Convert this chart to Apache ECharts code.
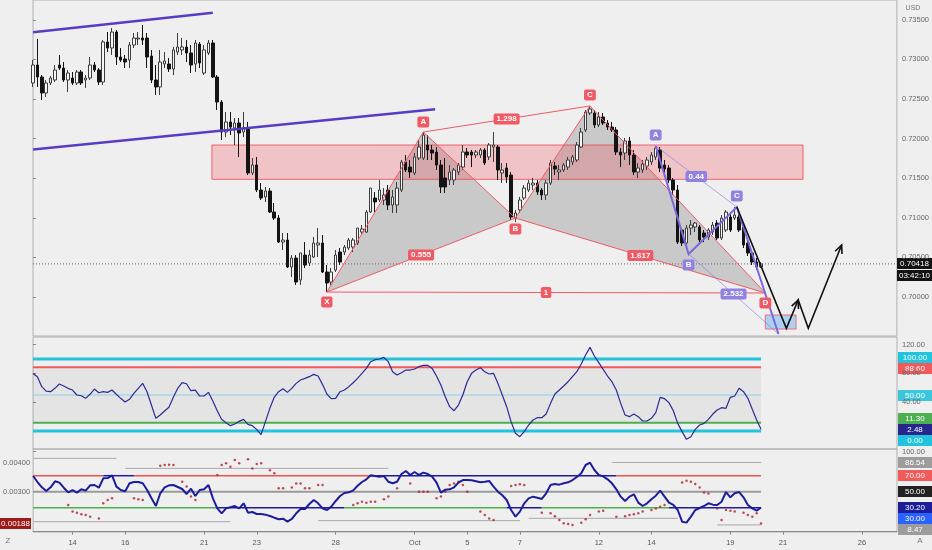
<!DOCTYPE html>
<html>
<head>
<meta charset="utf-8">
<script src="https://cdn.jsdelivr.net/npm/echarts@6.0.0/dist/echarts.min.js"></script>
<style>
html,body{margin:0;padding:0;background:#efefef;overflow:hidden}
#chart{width:932px;height:550px}
</style>
</head>
<body>
<div id="chart"></div>
<script>
// ================= DATA =================
const N_BARS = 198;
const tickBars   = [9, 21, 39, 51, 69, 87, 99, 111, 129, 141, 159, 171, 189];
const tickLabels = ['14','16','21','23','28','Oct','5','7','12','14','19','21','26'];
const priceTicks = [0.700, 0.705, 0.710, 0.715, 0.720, 0.725, 0.730, 0.735];
const oscTicks = [40, 80, 120];
const rsiTicks = [100];
const leftTicks = [0.003, 0.004];

const opens = [0.72702,0.72929,0.72778,0.72576,0.72702,0.72740,0.72929,0.72891,0.72740,0.72765,
0.72702,0.72841,0.72740,0.72765,0.72929,0.72866,0.72715,0.73220,0.73144,0.73346,
0.73030,0.73005,0.72992,0.73182,0.73258,0.73270,0.73270,0.73043,0.72740,0.72652,
0.72942,0.72942,0.72879,0.73093,0.73119,0.73157,0.73081,0.72942,0.73194,0.72828,
0.73081,0.73207,0.72778,0.72462,0.72083,0.72210,0.72134,0.72197,0.72083,0.72134,
0.71566,0.71667,0.71351,0.71263,0.71338,0.71073,0.70997,0.70694,0.70720,0.70379,
0.70492,0.70215,0.70530,0.70429,0.70505,0.70657,0.70682,0.70316,0.70189,0.70341,
0.70568,0.70568,0.70619,0.70631,0.70682,0.70821,0.70821,0.71073,0.71250,0.71225,
0.71225,0.71351,0.71162,0.71162,0.71351,0.71705,0.71641,0.71566,0.71755,0.71755,
0.71919,0.71856,0.71831,0.71667,0.71503,0.71477,0.71477,0.71578,0.71641,0.71831,
0.71831,0.71793,0.71793,0.71856,0.71768,0.71894,0.71894,0.71566,0.71629,0.71540,
0.70997,0.71099,0.71250,0.71351,0.71414,0.71439,0.71351,0.71288,0.71439,0.71654,
0.71578,0.71604,0.71641,0.71705,0.71730,0.71894,0.72109,0.72323,0.72323,0.72172,
0.72273,0.72197,0.72146,0.72109,0.71831,0.71818,0.71970,0.71793,0.71578,0.71604,
0.71654,0.71705,0.71768,0.71856,0.71667,0.71629,0.71477,0.71351,0.70846,0.70682,
0.70871,0.70884,0.70884,0.70808,0.70758,0.70821,0.70934,0.70745,0.70846,0.71010,
0.70997,0.71010,0.70884,0.70682,0.70556,0.70442,0.70379];
const closes = [0.72929,0.72778,0.72576,0.72702,0.72765,0.72866,0.72891,0.72740,0.72828,0.72702,
0.72841,0.72702,0.72765,0.72929,0.72866,0.72715,0.73220,0.73144,0.73346,0.73030,
0.72992,0.72967,0.73182,0.73270,0.73270,0.73245,0.73030,0.72740,0.72652,0.72967,
0.72980,0.72879,0.73119,0.73157,0.73157,0.73081,0.72929,0.73207,0.72955,0.73119,
0.73207,0.72778,0.72462,0.72083,0.72210,0.72146,0.72197,0.72071,0.72134,0.71566,
0.71667,0.71351,0.71250,0.71338,0.71073,0.70997,0.70694,0.70720,0.70379,0.70492,
0.70189,0.70556,0.70404,0.70530,0.70682,0.70682,0.70316,0.70177,0.70316,0.70530,
0.70442,0.70631,0.70720,0.70720,0.70871,0.70859,0.71073,0.71376,0.71200,0.71351,
0.71288,0.71162,0.71263,0.71376,0.71705,0.71604,0.71578,0.71768,0.71894,0.72045,
0.71856,0.71818,0.71667,0.71389,0.71389,0.71578,0.71604,0.71667,0.71831,0.71793,
0.71793,0.71831,0.71856,0.71692,0.71919,0.71919,0.71604,0.71604,0.71515,0.71010,
0.71061,0.71225,0.71376,0.71439,0.71439,0.71326,0.71288,0.71439,0.71692,0.71616,
0.71604,0.71667,0.71730,0.71768,0.71919,0.72083,0.72336,0.72374,0.72172,0.72273,
0.72197,0.72146,0.72109,0.71831,0.71793,0.71970,0.71793,0.71578,0.71629,0.71679,
0.71730,0.71793,0.71881,0.71629,0.71616,0.71477,0.71351,0.70694,0.70682,0.70871,
0.70909,0.70934,0.70720,0.70758,0.70846,0.70909,0.70745,0.70997,0.71073,0.70846,
0.71035,0.70846,0.70657,0.70556,0.70442,0.70379,0.70418];
const highs = [0.72992,0.73258,0.72803,0.72740,0.72790,0.72929,0.73056,0.72967,0.72866,0.72841,
0.72866,0.72866,0.72803,0.73030,0.72967,0.72891,0.73245,0.73346,0.73397,0.73371,
0.73144,0.73056,0.73220,0.73333,0.73346,0.73434,0.73333,0.73119,0.72929,0.73119,
0.73093,0.73018,0.73157,0.73333,0.73270,0.73245,0.73182,0.73245,0.73220,0.73182,
0.73245,0.73245,0.72803,0.72487,0.72336,0.72336,0.72260,0.72260,0.72336,0.72210,
0.71755,0.71768,0.71439,0.71389,0.71376,0.71187,0.71035,0.70808,0.70808,0.70530,
0.70530,0.70556,0.70694,0.70594,0.70758,0.70871,0.70783,0.70404,0.70366,0.70594,
0.70619,0.70657,0.70745,0.70745,0.70871,0.70909,0.71099,0.71376,0.71326,0.71477,
0.71376,0.71414,0.71351,0.71452,0.71730,0.71793,0.71730,0.71818,0.71982,0.72083,
0.72045,0.71919,0.71894,0.71730,0.71755,0.71667,0.71629,0.71692,0.71919,0.71881,
0.71856,0.71856,0.71881,0.71881,0.71944,0.72083,0.71919,0.71692,0.71692,0.71578,
0.71099,0.71263,0.71414,0.71477,0.71503,0.71477,0.71376,0.71477,0.71730,0.71705,
0.71667,0.71692,0.71768,0.71793,0.71957,0.72134,0.72361,0.72412,0.72361,0.72336,
0.72323,0.72235,0.72210,0.72146,0.71881,0.72008,0.72020,0.71856,0.71692,0.71730,
0.71768,0.71831,0.71907,0.71894,0.71730,0.71667,0.71503,0.71414,0.70871,0.70909,
0.70972,0.70947,0.70909,0.70846,0.70871,0.70947,0.70972,0.71035,0.71099,0.71061,
0.71136,0.71073,0.70909,0.70720,0.70594,0.70492,0.70442];
const lows = [0.72652,0.72652,0.72487,0.72525,0.72677,0.72715,0.72866,0.72715,0.72588,0.72677,
0.72677,0.72677,0.72639,0.72740,0.72841,0.72677,0.72677,0.73093,0.73056,0.72929,
0.72967,0.72891,0.72891,0.73144,0.73182,0.73182,0.72891,0.72702,0.72551,0.72551,
0.72891,0.72841,0.72803,0.73056,0.73056,0.72967,0.72828,0.72841,0.72891,0.72803,
0.73056,0.72765,0.72361,0.71982,0.72020,0.72045,0.71919,0.71768,0.72020,0.71540,
0.71540,0.71326,0.71225,0.71200,0.71061,0.70972,0.70682,0.70594,0.70366,0.70253,
0.70152,0.70152,0.70366,0.70391,0.70492,0.70505,0.70303,0.70063,0.70152,0.70316,
0.70404,0.70530,0.70594,0.70568,0.70657,0.70783,0.70808,0.71061,0.71073,0.71200,
0.71162,0.71099,0.71061,0.71061,0.71326,0.71578,0.71503,0.71540,0.71730,0.71730,
0.71730,0.71730,0.71604,0.71313,0.71313,0.71414,0.71414,0.71540,0.71604,0.71755,
0.71641,0.71755,0.71755,0.71667,0.71730,0.71705,0.71477,0.71439,0.71439,0.70972,
0.70947,0.71061,0.71225,0.71326,0.71351,0.71288,0.71225,0.71225,0.71414,0.71540,
0.71477,0.71578,0.71604,0.71667,0.71705,0.71881,0.72083,0.72298,0.72134,0.72146,
0.72172,0.72109,0.72083,0.71793,0.71641,0.71730,0.71667,0.71540,0.71503,0.71566,
0.71604,0.71667,0.71730,0.71578,0.71540,0.71439,0.71288,0.70669,0.70644,0.70594,
0.70783,0.70821,0.70694,0.70694,0.70720,0.70783,0.70720,0.70720,0.70821,0.70821,
0.70972,0.70821,0.70619,0.70518,0.70404,0.70341,0.70366];
const lastPrice = 0.70418;
const countdown = '03:42:10';

// oscillator (middle pane)
const oscValues = [80,75.5,61.6,55.5,54.6,59.3,65.3,62.5,59.3,56.9,
50,49,45.4,51,58.3,53.2,54.6,53.7,56.9,51,
45.4,40.3,44,52.3,59.3,66.2,54.6,36.1,17.6,22.2,
27.8,32.9,46.8,59.3,67.1,65.7,56,56.9,48.6,48.6,
53.7,41.7,28.2,16.2,11.6,7.4,9.7,13.4,16.2,9.3,
7.4,2.3,-5.1,13,31.5,46.8,54.6,58.8,53.7,59.3,
66.2,70.8,73.1,75.5,78.7,76.4,64.8,51.4,44.9,45.4,
54.6,56.9,61.6,67.1,73.1,80.1,87,96.3,99.1,100,
102.3,96.3,82.4,77.8,81,84.7,84.7,86.1,89.4,91.2,
91.2,87,76.4,63.9,47.7,33.8,28.2,36.1,50,68.5,
80.1,84.7,88,82.4,79.2,80.1,66.2,50,33.8,13,
-3.2,-7.9,-0.9,8.3,15.3,18.5,18.5,23.6,38.4,51.4,
56.9,62.5,68.5,75.5,82.4,93.1,105.6,116.2,104.2,94.9,
85.6,76.4,68.5,56.9,38.4,22.2,19.9,23.6,19.9,13.9,
13.9,17.6,25.5,46.8,44.9,39.4,28.2,10.6,-0.9,-11.6,
-7.9,2.3,8.3,10.6,16.2,23.6,29.2,32.4,31.5,46.8,
48.6,59.3,54.6,45.4,30.1,15.3,2.48];
const oscLevelValues = [100, 88.6, 50, 11.3, 0];

// bottom pane
const rsiValues = [69.6,62.1,55.5,50.9,55.5,63,61.3,55,49.2,52.1,
48.8,53,51.3,58,58.4,55,66.7,67.1,70.5,56.3,
52.1,50.5,60.5,62.1,62.1,60.5,52.1,41.7,32.1,48,
55.5,58,58.4,55.9,53.4,47.1,53.8,44.6,52.1,53,
58.4,41.7,29.2,23,29.2,30.5,32.1,29.2,35.5,23.8,
24.6,22.1,22.1,21.3,19.6,17.5,15.5,16.3,12.5,15.9,
23,28.4,28.4,34.6,39.6,35.5,29.2,27.1,31.3,38.4,
44.6,48.4,49.2,51.7,57.5,62.1,65.5,70.5,69.6,68.8,
69.6,62.5,60.5,62.5,72.1,75.9,70.9,74.6,70.9,73.8,
72.1,68.8,61.3,48.8,52.5,53,55.5,61.3,64.6,64.6,
64.2,63,61.7,62.5,63.4,56.3,50,45.5,39.6,27.1,
18.8,25.1,35.5,41.7,43.8,42.5,40.9,48,58.4,59.6,
58.8,60.5,61.7,64.6,68.4,73,83.4,86.3,77.1,70.9,
69.2,65.5,60.5,53,43.8,38.4,43.8,46.7,36.3,32.1,
35.5,40.5,45,51.3,43.8,36.3,33.4,27.1,12.5,11.3,
18.8,27.1,29.6,32.1,35.5,33.8,33.4,37.5,49.6,43,
48,49.6,43,33.4,29.2,26.3,30.2];
const rsiLevelValues = [70, 50, 30];
// runs of the 70 / 30 levels: [fromBar, toBar, state] (state 1 = triggered)
const level70Runs = [[0,16,0],[16,23,1],[23,77,0],[77,133,1],[133,166,0]];
const level30Runs = [[0,42,0],[42,71,1],[71,108,0],[108,116,1],[116,145,0],[145,166,1]];
const upperSteps = [[0,19,91.7],[21,81,79.2],[132,166,86.54]];
const lowerSteps = [[0,45,12.5],[65,111,13.8],[113,147,16.7],[156,166,8.47]];
const dotBars = [8,9,10,11,12,13,15,16,17,18,23,24,25,29,30,31,32,34,35,36,37,42,43,44,45,46,47,49,50,51,52,54,55,56,57,59,60,61,62,63,65,66,
73,74,75,76,77,78,80,81,83,86,88,89,90,92,93,94,95,96,97,98,99,102,103,104,105,109,110,111,112,
116,118,119,120,121,122,123,125,126,127,129,130,133,135,136,137,138,139,141,142,143,144,148,149,150,151,152,153,154,156,157,158,159,160,162,163,164,165,166];
const dotValues = [0.00253,0.00230,0.00226,0.00221,0.00218,0.00212,0.00206,0.00259,0.00271,0.00277,0.00277,0.00273,0.00271,0.00391,0.00394,0.00395,0.00394,0.00335,0.00318,0.00283,0.00271,0.00359,0.00394,0.00400,0.00388,0.00412,0.00400,0.00414,0.00382,0.00398,0.00400,0.00376,0.00365,0.00312,0.00312,0.00315,0.00329,0.00329,0.00312,0.00312,0.00324,0.00324,
0.00253,0.00259,0.00265,0.00261,0.00265,0.00265,0.00273,0.00283,0.00312,0.00329,0.00300,0.00300,0.00300,0.00277,0.00283,0.00300,0.00324,0.00329,0.00335,0.00324,0.00300,0.00230,0.00218,0.00206,0.00200,0.00320,0.00324,0.00326,0.00324,
0.00226,0.00224,0.00214,0.00200,0.00189,0.00186,0.00183,0.00191,0.00203,0.00218,0.00230,0.00233,0.00212,0.00214,0.00218,0.00221,0.00224,0.00230,0.00236,0.00241,0.00247,0.00253,0.00332,0.00339,0.00335,0.00327,0.00315,0.00297,0.00294,0.00241,0.00200,0.00236,0.00233,0.00230,0.00226,0.00218,0.00212,0.00224,0.00188];

// drawings on the price pane (bar index, price)
const channelTop    = [[0, 0.73342], [41, 0.73590]];
const channelBottom = [[0, 0.71862], [91.7, 0.72370]];
const zoneBars = [40.8, 175.6];
const zonePrices = [0.71919, 0.71486];
const harmonicNames  = ['X','A','B','C','D'];
const harmonicBars   = [67, 89, 110, 127, 167];
const harmonicPrices = [0.70063, 0.72083, 0.70997, 0.72412, 0.70051];
const harmonicRatios = ['0.555','1.298','1.617','1'];   // XB, AC, BD, XD
const abcdNames  = ['A','B','C','D'];
const abcdBars   = [142, 149.5, 160.5, 170];
const abcdPrices = [0.71907, 0.70543, 0.71136, 0.69533];
const abcdRatios = ['0.44','2.532'];                     // AC, BD
const targetBars = [167, 174];
const targetPrices = [0.69773, 0.69596];
const pathBars   = [160.5, 171.8, 174.5, 176.8, 184.4];
const pathPrices = [0.71136, 0.69605, 0.69962, 0.69605, 0.70657];

// ================= BUILD =================
const FONT = "'Liberation Sans', Arial, sans-serif";
const RED = '#f05a64', PURPLE = '#7a68de', PURPLE_LBL = '#9182e2', NAVY = '#1d1d9c';
const categories = Array.from({length: N_BARS}, () => '');
tickBars.forEach((b, k) => { categories[b] = tickLabels[k]; });
const lastBar = closes.length - 1;

const H = harmonicBars.map((b, i) => [b, harmonicPrices[i]]);
const [hX, hA, hB, hC, hD] = H;
const P = abcdBars.map((b, i) => [b, abcdPrices[i]]);
const [pA, pB, pC, pD] = P;
const mid = (a, b) => [(a[0] + b[0]) / 2, (a[1] + b[1]) / 2];
const rectPts = (bx, py) => [[bx[0], py[0]], [bx[1], py[0]], [bx[1], py[1]], [bx[0], py[1]]];

const fills0 = [
  {kind:'poly', pts:[hX, hA, hB], fill:'rgba(105,105,105,0.28)'},
  {kind:'poly', pts:[hB, hC, hD], fill:'rgba(105,105,105,0.28)'},
  {kind:'poly', pts:rectPts(zoneBars, zonePrices), fill:'rgba(242,54,69,0.24)', stroke:'rgba(240,60,70,0.75)', lw:1},
  {kind:'line', pts:[[0, lastPrice], [N_BARS - 1, lastPrice]], stroke:'#666', lw:1, dash:[1, 2]}
];
const lbl = (pt, text, bg, dy, fs) => ({kind:'label', pts:[pt], text, bg, dy, fs});
const lines0 = [
  {kind:'line', pts:channelTop, stroke:'#5a3cc2', lw:2.5},
  {kind:'line', pts:channelBottom, stroke:'#5a3cc2', lw:2.5},
  {kind:'line', pts:[hX, hA, hB, hC, hD], stroke:RED, lw:1},
  {kind:'line', pts:[hX, hB, hD], stroke:RED, lw:1},
  {kind:'line', pts:[hA, hC], stroke:RED, lw:1},
  {kind:'line', pts:[hX, hD], stroke:RED, lw:1},
  {kind:'poly', pts:rectPts(targetBars, targetPrices), fill:'rgba(150,200,240,0.75)', stroke:'#f06a80', lw:1},
  {kind:'line', pts:[pA, pC], stroke:'rgba(122,104,222,0.55)', lw:1},
  {kind:'line', pts:[pB, pD], stroke:'rgba(122,104,222,0.55)', lw:1},
  {kind:'line', pts:[pA, pB, pC, pD], stroke:PURPLE, lw:2},
  {kind:'arrow', pts:pathBars.map((b, i) => [b, pathPrices[i]]), stroke:'#111', lw:1.6, heads:[2, 4]},
  lbl(mid(hX, hB), harmonicRatios[0], RED, 0, 8),
  lbl(mid(hA, hC), harmonicRatios[1], RED, 0, 8),
  lbl(mid(hB, hD), harmonicRatios[2], RED, 0, 8),
  lbl(mid(hX, hD), harmonicRatios[3], RED, 0, 8),
  lbl(mid(pA, pC), abcdRatios[0], PURPLE_LBL, 0, 8),
  lbl(mid(pB, pD), abcdRatios[1], PURPLE_LBL, 0, 8),
  lbl(hX, harmonicNames[0], RED, 10, 8),
  lbl(hA, harmonicNames[1], RED, -10, 8),
  lbl(hB, harmonicNames[2], RED, 11, 8),
  lbl(hC, harmonicNames[3], RED, -11, 8),
  lbl(hD, harmonicNames[4], RED, 10, 8),
  lbl(pA, abcdNames[0], PURPLE_LBL, -11, 8),
  lbl(pB, abcdNames[1], PURPLE_LBL, 11, 8),
  lbl(pC, abcdNames[2], PURPLE_LBL, -11, 8),
  lbl(pD, abcdNames[3], PURPLE_LBL, 9, 8)
];

const oscColors = ['#22c3dd', '#f05a5a', '#8fd0e6', '#4caf50', '#22c3dd'];
const oscWidths = [3, 2, 1, 2, 3];
const items1 = [
  {kind:'poly', pts:[[0, oscLevelValues[1]], [lastBar, oscLevelValues[1]], [lastBar, oscLevelValues[3]], [0, oscLevelValues[3]]], fill:'rgba(0,0,0,0.045)'}
].concat(oscLevelValues.map((v, k) => ({kind:'line', pts:[[0, v], [lastBar, v]], stroke:oscColors[k], lw:oscWidths[k]})));

const items2 = [
  {kind:'line', pts:[[0, rsiLevelValues[1]], [lastBar, rsiLevelValues[1]]], stroke:'#9a9a9a', lw:2}
];
level70Runs.forEach(r => items2.push({kind:'line', pts:[[r[0], rsiLevelValues[0]], [r[1], rsiLevelValues[0]]], stroke: r[2] ? NAVY : '#ef5350', lw:1.5}));
level30Runs.forEach(r => items2.push({kind:'line', pts:[[r[0], rsiLevelValues[2]], [r[1], rsiLevelValues[2]]], stroke: r[2] ? NAVY : '#4caf50', lw:1.5}));
upperSteps.concat(lowerSteps).forEach(s => items2.push({kind:'line', pts:[[s[0], s[2]], [s[1], s[2]]], stroke:'#a8a8a8', lw:1}));

function makeRender(items) {
  return function (params, api) {
    const it = items[params.dataIndex];
    const pts = it.pts.map(p => api.coord(p));
    if (it.kind === 'poly') {
      return {type:'polygon', shape:{points:pts}, style:{fill:it.fill, stroke:it.stroke || null, lineWidth:it.lw || 0}};
    }
    if (it.kind === 'line') {
      return {type:'polyline', shape:{points:pts}, style:{stroke:it.stroke, lineWidth:it.lw, fill:null, lineDash:it.dash || null}};
    }
    if (it.kind === 'arrow') {
      const ch = [{type:'polyline', shape:{points:pts}, style:{stroke:it.stroke, lineWidth:it.lw, fill:null}}];
      it.heads.forEach(k => {
        const a = pts[k - 1], b = pts[k];
        const ang = Math.atan2(b[1] - a[1], b[0] - a[0]), L = 9, s = 0.42;
        ch.push({type:'polyline', shape:{points:[
          [b[0] - L * Math.cos(ang - s), b[1] - L * Math.sin(ang - s)], b,
          [b[0] - L * Math.cos(ang + s), b[1] - L * Math.sin(ang + s)]]},
          style:{stroke:it.stroke, lineWidth:it.lw, fill:null}});
      });
      return {type:'group', children:ch};
    }
    if (it.kind === 'label') {
      return {type:'text', x:pts[0][0], y:pts[0][1] + it.dy, style:{
        text:it.text, fill:'#fff', font:'bold ' + it.fs + 'px ' + FONT,
        align:'center', verticalAlign:'middle', textAlign:'center', textVerticalAlign:'middle',
        backgroundColor:it.bg, padding:[2, 3, 1, 3], borderRadius:2}};
    }
    return null;
  };
}
const customSeries = (items, xi, yi, z) => ({
  type:'custom', xAxisIndex:xi, yAxisIndex:yi, renderItem:makeRender(items),
  data:items.map(it => it.pts[0]), clip:true, silent:true, z:z, animation:false
});

const catAxis = (grid, show) => ({
  type:'category', gridIndex:grid, data:categories, boundaryGap:false,
  axisLine:{show:show, lineStyle:{color:'#8a8a8a'}},
  axisTick:{show:show, length:3, interval:(i, v) => v !== '', lineStyle:{color:'#8a8a8a'}},
  axisLabel:{show:show, interval:(i, v) => v !== '', color:'#555', fontSize:7.5, fontFamily:FONT, margin:7},
  splitLine:{show:false}
});
const valAxis = grid => ({type:'value', gridIndex:grid, min:0, max:N_BARS - 1, show:false});
const yLab = (vals, fmt) => ({customValues:vals, formatter:fmt, color:'#666', fontSize:7.5, fontFamily:FONT, margin:5});
const yTick = vals => ({show:true, length:3, customValues:vals, lineStyle:{color:'#888'}});

const gridStyle = {show:true, borderColor:'#b0b0b0', borderWidth:1, backgroundColor:'transparent', left:33, right:35};

const option = {
  backgroundColor:'#efefef',
  animation:false,
  grid:[
    Object.assign({top:0, height:336}, gridStyle),
    Object.assign({top:337, height:112}, gridStyle),
    Object.assign({top:449, height:83}, gridStyle)
  ],
  xAxis:[catAxis(0, false), catAxis(1, false), catAxis(2, true), valAxis(0), valAxis(1), valAxis(2)],
  yAxis:[
    {type:'value', gridIndex:0, position:'right', min:0.69508, max:0.7375, splitLine:{show:false}, axisLine:{show:false},
      axisTick:yTick(priceTicks), axisLabel:yLab(priceTicks, v => v.toFixed(5))},
    {type:'value', gridIndex:1, position:'right', min:-25, max:130.6, splitLine:{show:false}, axisLine:{show:false},
      axisTick:yTick(oscTicks), axisLabel:yLab(oscTicks, v => v.toFixed(2))},
    {type:'value', gridIndex:2, position:'right', min:-0.4, max:103.4, splitLine:{show:false}, axisLine:{show:false},
      axisTick:yTick(rsiTicks), axisLabel:yLab(rsiTicks, v => v.toFixed(2))},
    {type:'value', gridIndex:2, position:'left', min:0.001581, max:0.004504, splitLine:{show:false}, axisLine:{show:false},
      axisTick:{show:false}, axisLabel:Object.assign(yLab(leftTicks, v => v.toFixed(5)), {margin:3})}
  ],
  series:[
    customSeries(fills0, 3, 0, 1),
    {type:'candlestick', xAxisIndex:0, yAxisIndex:0, z:2, barWidth:3,
      data:opens.map((o, i) => [o, closes[i], lows[i], highs[i]]),
      itemStyle:{color:'#f7f7f7', color0:'#141414', borderColor:'#3c3c3c', borderColor0:'#141414', borderWidth:1}},
    customSeries(lines0, 3, 0, 3),
    customSeries(items1, 4, 1, 1),
    {type:'line', xAxisIndex:1, yAxisIndex:1, data:oscValues, symbol:'none', z:3,
      lineStyle:{color:'#2b2b95', width:1.2}},
    customSeries(items2, 5, 2, 1),
    {type:'scatter', xAxisIndex:5, yAxisIndex:3, z:3, symbolSize:2.5,
      data:dotBars.map((b, i) => [b, dotValues[i]]), itemStyle:{color:'#b0202a'}},
    {type:'line', xAxisIndex:2, yAxisIndex:2, data:rsiValues, symbol:'none', z:4,
      lineStyle:{color:NAVY, width:2}}
  ]
};

const chart = echarts.init(document.getElementById('chart'), null, {renderer:'canvas'});
chart.setOption(option);

// ---- price / level tags on the axes ----
const TAG_H = 11;
function layoutTags(list) {
  for (let it = 0; it < 80; it++) {
    list.sort((a, b) => a.y - b.y);
    let moved = false;
    for (let k = 0; k < list.length - 1; k++) {
      const a = list[k], b = list[k + 1], gap = TAG_H - (b.y - a.y);
      if (gap > 0.05) {
        moved = true;
        if (a.fixed && !b.fixed) b.y += gap;
        else if (b.fixed && !a.fixed) a.y -= gap;
        else { a.y -= gap / 2; b.y += gap / 2; }
      }
    }
    if (!moved) break;
  }
}
const yPix = (axis, v) => chart.convertToPixel({yAxisIndex:axis}, v);
const graphics = [];
function tagEl(x, y, w, text, bg, fg) {
  graphics.push({type:'group', x:x, y:Math.round(y - TAG_H / 2), z:100, children:[
    {type:'rect', shape:{x:0, y:0, width:w, height:TAG_H}, style:{fill:bg}},
    {type:'text', x:w / 2, y:TAG_H / 2 + 0.5, style:{text:text, fill:fg, font:'8px ' + FONT,
      textAlign:'center', textVerticalAlign:'middle', align:'center', verticalAlign:'middle'}}
  ]});
}
const oscTags = [
  {v:oscLevelValues[0], text:'100.00', bg:'#22c3dd'},
  {v:oscLevelValues[1], text:'88.60', bg:'#f05a5a'},
  {v:oscLevelValues[2], text:'50.00', bg:'#3cc6dc'},
  {v:oscLevelValues[3], text:'11.30', bg:'#4caf50'},
  {v:oscValues[lastBar], text:oscValues[lastBar].toFixed(2), bg:'#26268c', fixed:true},
  {v:oscLevelValues[4], text:'0.00', bg:'#22c3dd'}
].map(t => Object.assign(t, {y:yPix(1, t.v)}));
layoutTags(oscTags);
oscTags.forEach(t => tagEl(898, t.y, 34, t.text, t.bg, '#fff'));

const rsiTags = [
  {v:upperSteps[upperSteps.length - 1][2], text:'86.54', bg:'#9c9c9c'},
  {v:rsiLevelValues[0], text:'70.00', bg:'#f05a5a'},
  {v:rsiLevelValues[1], text:'50.00', bg:'#222'},
  {v:rsiValues[lastBar], text:rsiValues[lastBar].toFixed(2), bg:NAVY, fixed:true},
  {v:30, text:'30.00', bg:'#2962ff'},
  {v:lowerSteps[lowerSteps.length - 1][2], text:'8.47', bg:'#9c9c9c'}
].map(t => Object.assign(t, {y:yPix(2, t.v)}));
layoutTags(rsiTags);
rsiTags.forEach(t => tagEl(898, t.y, 34, t.text, t.bg, '#fff'));

tagEl(0, yPix(3, dotValues[dotValues.length - 1]), 31, dotValues[dotValues.length - 1].toFixed(5), '#9b1a1a', '#fff');
const py = yPix(0, lastPrice);
tagEl(897, py, 35, lastPrice.toFixed(5), '#131313', '#fff');
tagEl(897, py + TAG_H + 1, 35, countdown, '#131313', '#fff');

const txt = (x, y, text, size, color) => graphics.push({type:'text', x, y, z:100, style:{text, fill:color,
  font:size + 'px ' + FONT, textAlign:'center', textVerticalAlign:'middle', align:'center', verticalAlign:'middle'}});
txt(913, 8, 'USD', 7, '#777');
txt(8, 541, 'Z', 8, '#777');
txt(920, 541, 'A', 8, '#777');
chart.setOption({graphic:graphics});
</script>
</body>
</html>
